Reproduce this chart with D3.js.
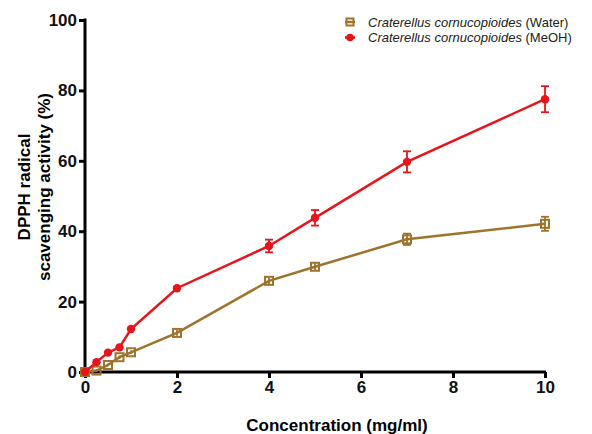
<!DOCTYPE html>
<html>
<head>
<meta charset="utf-8">
<script src="https://cdn.jsdelivr.net/npm/d3@7"></script>
<style>
  body { margin: 0; background: #fff; }
  svg { font-family: "Liberation Sans", Arial, sans-serif; }
</style>
</head>
<body>
<div id="chart"></div>
<script>
// concentration (mg/ml)
var conc = [0, 0.25, 0.5, 0.75, 1, 2, 4, 5, 7, 10];
// DPPH scavenging (%) and error (SD)
var waterVals = [0, 0.4, 2, 4.2, 5.6, 11.1, 25.9, 29.9, 37.7, 42.1];
var waterErr  = [0, 0.3, 0.4, 0.5, 0.5, 0.8, 0.9, 1.2, 1.6, 2.0];
var meohVals  = [0, 2.8, 5.5, 7.0, 12.2, 23.8, 35.8, 43.8, 59.7, 77.5];
var meohErr   = [0, 0.3, 0.4, 0.5, 0.6, 1.0, 1.8, 2.2, 3.0, 3.7];
var xTicks = [0, 2, 4, 6, 8, 10];
var yTicks = [0, 20, 40, 60, 80, 100];
var seriesNames = ["(Water)", "(MeOH)"];

var w = 592, h = 434;
var brown = "#9e742c", red = "#e8141c";

var svg = d3.select("#chart").append("svg")
    .attr("width", w)
    .attr("height", h);

var xscale = d3.scaleLinear().domain([0, 10]).range([85, 545]);
var yscale = d3.scaleLinear().domain([0, 100]).range([372, 20]);

// axes
var yaxis = d3.axisLeft(yscale).tickValues(yTicks).tickSize(6).tickPadding(2);
var gy = svg.append("g").attr("transform", "translate(85,0)").call(yaxis);
var xaxis = d3.axisBottom(xscale).tickValues(xTicks).tickSize(6).tickPadding(3);
var gx = svg.append("g").attr("transform", "translate(0,372)").call(xaxis);

[gx, gy].forEach(function (g) {
    g.select(".domain").attr("stroke", "#000").attr("stroke-width", 3)
        .attr("d", g === gx ? "M84,0H546" : "M0,18.5V373.5");
    g.selectAll(".tick line").attr("stroke", "#000").attr("stroke-width", 3);
    g.selectAll(".tick text").attr("fill", "#111")
        .style("font-size", "17px").style("font-weight", "bold");
});

// axis titles
svg.append("text")
    .attr("x", 337).attr("y", 431)
    .attr("text-anchor", "middle")
    .style("font-size", "17px").style("font-weight", "bold")
    .text("Concentration (mg/ml)");

var yt = svg.append("text")
    .attr("transform", "translate(30,187) rotate(-90)")
    .attr("text-anchor", "middle")
    .style("font-size", "17px").style("font-weight", "bold");
yt.append("tspan").attr("x", 0).attr("dy", 0).text("DPPH radical");
yt.append("tspan").attr("x", 0).attr("dy", 20).text("scavenging activity (%)");

var series = [
    { vals: waterVals, err: waterErr, color: brown, shape: "square" },
    { vals: meohVals, err: meohErr, color: red, shape: "circle" }
];

var line = d3.line()
    .x(function (d) { return xscale(d[0]); })
    .y(function (d) { return yscale(d[1]); });

series.forEach(function (s) {
    var pts = conc.map(function (c, i) { return [c, s.vals[i], s.err[i]]; });

    svg.append("path")
        .datum(pts)
        .attr("fill", "none")
        .attr("stroke", s.color)
        .attr("stroke-width", 2.5)
        .attr("d", line);

    // error bars
    var eb = svg.append("g").attr("stroke", s.color).attr("stroke-width", 1.8);
    eb.selectAll(".v").data(pts).enter().append("line")
        .attr("x1", function (d) { return xscale(d[0]); })
        .attr("x2", function (d) { return xscale(d[0]); })
        .attr("y1", function (d) { return yscale(d[1] + d[2]); })
        .attr("y2", function (d) { return yscale(d[1] - d[2]); });
    [1, -1].forEach(function (sg) {
        eb.selectAll(".c" + sg).data(pts.filter(function (d) { return d[2] > 1.2; }))
            .enter().append("line")
            .attr("x1", function (d) { return xscale(d[0]) - 4; })
            .attr("x2", function (d) { return xscale(d[0]) + 4; })
            .attr("y1", function (d) { return yscale(d[1] + sg * d[2]); })
            .attr("y2", function (d) { return yscale(d[1] + sg * d[2]); });
    });

    if (s.shape === "square") {
        svg.selectAll(".sq").data(pts).enter().append("rect")
            .attr("x", function (d) { return xscale(d[0]) - 4; })
            .attr("y", function (d) { return yscale(d[1]) - 4; })
            .attr("width", 8).attr("height", 8)
            .attr("fill", "none")
            .attr("stroke", s.color).attr("stroke-width", 2);
    } else {
        svg.selectAll(".ci").data(pts).enter().append("circle")
            .attr("cx", function (d) { return xscale(d[0]); })
            .attr("cy", function (d) { return yscale(d[1]); })
            .attr("r", 4.2)
            .attr("fill", s.color);
    }
});

// legend
var legend = svg.append("g").attr("transform", "translate(350,0)");
series.forEach(function (s, i) {
    var y = 22 + i * 15.5;
    var g = legend.append("g");
    g.append("line").attr("x1", -5).attr("x2", 5).attr("y1", y).attr("y2", y)
        .attr("stroke", s.color).attr("stroke-width", 2.5);
    if (s.shape === "square") {
        g.append("rect").attr("x", -3.5).attr("y", y - 3.5).attr("width", 7).attr("height", 7)
            .attr("fill", "none").attr("stroke", s.color).attr("stroke-width", 2);
    } else {
        g.append("circle").attr("cx", 0).attr("cy", y).attr("r", 3.8).attr("fill", s.color);
    }
    var t = g.append("text").attr("x", 18).attr("y", y).attr("dy", "0.35em")
        .style("font-size", "13px").attr("fill", "#222");
    t.append("tspan").style("font-style", "italic").style("font-size", "13px")
        .text("Craterellus cornucopioides");
    t.append("tspan").style("font-size", "13px").text(" " + seriesNames[i]);
});
</script>
</body>
</html>
